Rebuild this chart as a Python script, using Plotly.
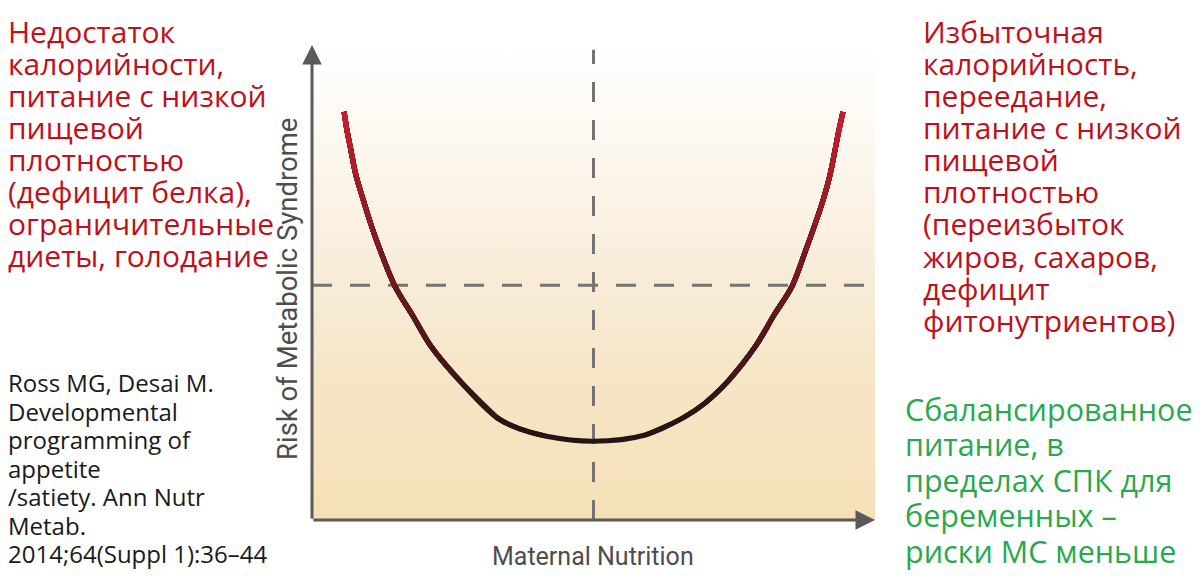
import plotly.graph_objects as go

# U-кривая: риск метаболического синдрома в зависимости от питания матери
nutrition = [5.7, 6.2, 6.9, 7.8, 9.1, 10.5, 12.1, 14.7, 17.8, 21.0, 25.8, 32.9, 36.9, 41.4, 49.9,
             59.2, 65.9, 69.8, 74.1, 78.9, 82.1, 85.3, 87.7, 89.3, 90.8, 92.0, 92.9, 93.6, 94.3]
risk = [85.9, 82.1, 77.9, 72.6, 67.4, 62.1, 56.8, 49.3, 43.2, 36.8, 29.9, 21.5, 19.2, 17.7, 16.6,
        17.9, 21.5, 24.6, 29.5, 36.8, 43.2, 49.3, 56.8, 62.1, 67.4, 72.6, 77.9, 82.1, 85.9]

optimum_x = 50.0
threshold_y = 49.4

x_title = "Maternal Nutrition"
y_title = "Risk of Metabolic Syndrome"

left_text = ["Недостаток", "калорийности,", "питание с низкой", "пищевой", "плотностью",
             "(дефицит белка),", "ограничительные", "диеты, голодание"]
right_text = ["Избыточная", "калорийность,", "переедание,", "питание с низкой", "пищевой",
              "плотностью", "(переизбыток", "жиров, сахаров,", "дефицит", "фитонутриентов)"]
green_text = ["Сбалансированное", "питание, в", "пределах СПК для", "беременных –", "риски МС меньше"]
citation = ["Ross MG, Desai M.", "Developmental", "programming of", "appetite",
            "/satiety. Ann Nutr", "Metab.", "2014;64(Suppl 1):36–44"]

W, H = 1200, 576


def curve_color(y):
    t = min(max((y - 16) / 70, 0), 1) ** 1.1
    lo = (35, 20, 20)
    hi = (200, 30, 45)
    r, g, b = [round(lo[k] + (hi[k] - lo[k]) * t) for k in range(3)]
    return f"rgb({r},{g},{b})"


fig = go.Figure()

# фон с градиентом
fig.add_trace(go.Scatter(x=[0, 100, 100, 0, 0], y=[0, 0, 100, 100, 0], mode="lines",
                         line=dict(width=0), fill="toself",
                         fillgradient=dict(type="vertical",
                                           colorscale=[[0, "#f5e1b7"], [0.3, "#f6e6c7"], [0.5, "#f8ecd7"],
                                                       [0.75, "#fcf6ed"], [1, "#ffffff"]]),
                         hoverinfo="skip", showlegend=False))

# пунктирные линии
fig.add_trace(go.Scatter(x=[0, 100], y=[threshold_y, threshold_y], mode="lines",
                         line=dict(color="#737373", width=3, dash="20px,18px"),
                         hoverinfo="skip", showlegend=False))
fig.add_trace(go.Scatter(x=[optimum_x, optimum_x], y=[0, 99], mode="lines",
                         line=dict(color="#737373", width=3, dash="20px,18px"),
                         hoverinfo="skip", showlegend=False))

# кривая: сначала целиком тёмная, потом сверху всё более красные концы
n = len(nutrition)
mid = n // 2
fig.add_trace(go.Scatter(x=nutrition, y=risk, mode="lines",
                         line=dict(color=curve_color(risk[mid]), width=5, shape="spline", smoothing=1),
                         hoverinfo="skip", showlegend=False))
for j in range(mid - 1, 0, -1):
    c = curve_color((risk[j] + risk[j - 1]) / 2)
    fig.add_trace(go.Scatter(x=nutrition[:j + 1], y=risk[:j + 1], mode="lines",
                             line=dict(color=c, width=5, shape="spline", smoothing=1),
                             hoverinfo="skip", showlegend=False))
    fig.add_trace(go.Scatter(x=nutrition[n - 1 - j:], y=risk[n - 1 - j:], mode="lines",
                             line=dict(color=c, width=5, shape="spline", smoothing=1),
                             hoverinfo="skip", showlegend=False))

annotations = []
# оси со стрелками
annotations.append(dict(x=0, y=100, ax=0, ay=0, xref="x", yref="y", axref="x", ayref="y",
                        text="", showarrow=True, arrowhead=2, arrowsize=1.3, arrowwidth=3,
                        arrowcolor="#5a5a5a"))
annotations.append(dict(x=100, y=0, ax=0, ay=0, xref="x", yref="y", axref="x", ayref="y",
                        text="", showarrow=True, arrowhead=2, arrowsize=1.3, arrowwidth=3,
                        arrowcolor="#5a5a5a"))


def add_lines(lines, x_px, base0, step, size, color, font="Open Sans"):
    for i, line in enumerate(lines):
        baseline = base0 + step * i
        yc = baseline - 0.388 * size
        annotations.append(dict(x=x_px / W, y=1 - yc / H, xref="paper", yref="paper",
                                xanchor="left", yanchor="middle", text=line, showarrow=False,
                                font=dict(family=font, size=size, color=color)))


add_lines(left_text, 6, 43, 32, 30, "#bc121c")
add_lines(right_text, 921, 43, 32.1, 30, "#bc121c")
add_lines(green_text, 903, 420.5, 35.5, 30.5, "#2aa84f")
add_lines(citation, 6, 392, 28.5, 24, "#1a1a1a")

annotations.append(dict(x=593 / W, y=1 - 556.5 / H, xref="paper", yref="paper",
                        xanchor="center", yanchor="middle", text=x_title, showarrow=False,
                        font=dict(family="Roboto", size=25, color="#4d4d4d")))
annotations.append(dict(x=287 / W, y=1 - 289 / H, xref="paper", yref="paper",
                        xanchor="center", yanchor="middle", text=y_title, showarrow=False,
                        textangle=-90, font=dict(family="Roboto", size=27.5, color="#4d4d4d")))

fig.update_layout(
    width=W, height=H,
    margin=dict(l=0, r=0, t=0, b=0),
    paper_bgcolor="white", plot_bgcolor="rgba(0,0,0,0)",
    xaxis=dict(domain=[312 / W, 875 / W], range=[0, 100], visible=False),
    yaxis=dict(domain=[56 / H, 1 - 45 / H], range=[0, 100], visible=False),
    annotations=annotations,
    showlegend=False,
)

fig.write_html("out.html", config={"displayModeBar": False},
               post_script="document.body.style.margin='0';")
